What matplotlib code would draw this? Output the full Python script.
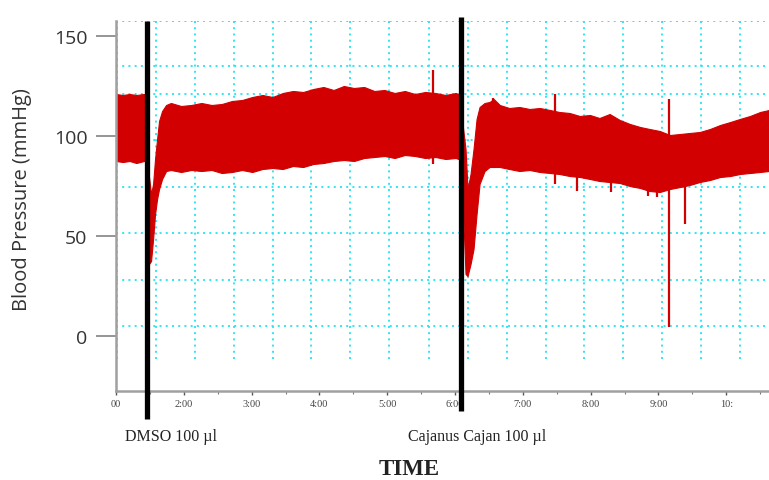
import matplotlib
matplotlib.use("Agg")
import matplotlib.pyplot as plt
import numpy as np

# ---- data (time in minutes, pressure in mmHg) ----
seg_pre_t  = [1.000, 1.100, 1.200, 1.300, 1.414]
seg_pre_hi = [121.0, 120.5, 121.0, 120.5, 121.0]
seg_pre_lo = [87.5, 87.0, 87.5, 86.5, 87.5]

seg_dmso_t  = [1.443, 1.487, 1.517, 1.547, 1.576, 1.606, 1.635, 1.680, 1.739,
               1.81, 1.96, 2.11, 2.26, 2.41, 2.56, 2.71, 2.86, 3.01, 3.16, 3.31,
               3.46, 3.61, 3.76, 3.91, 4.06, 4.21, 4.36, 4.51, 4.66, 4.81, 4.96,
               5.11, 5.26, 5.41, 5.56, 5.71, 5.86, 6.01, 6.05]
seg_dmso_hi = [82.0, 79.5, 71.0, 76.0, 88.5, 98.5, 107.5, 112.5, 115.5,
               116.5, 115.0, 115.5, 116.5, 115.5, 116.0, 117.5, 118.0, 119.5, 120.5, 119.5,
               121.5, 122.5, 122.0, 123.5, 124.5, 123.0, 125.0, 124.0, 124.5, 122.5, 123.0,
               121.5, 122.5, 121.0, 122.0, 121.5, 120.5, 121.5, 121.0]
seg_dmso_lo = [61.0, 36.0, 37.5, 48.5, 61.0, 68.5, 73.5, 78.5, 82.5,
               83.0, 82.0, 83.0, 82.5, 83.0, 81.5, 82.0, 83.0, 82.0, 83.5, 84.0,
               83.5, 85.0, 84.5, 86.0, 86.5, 87.5, 88.0, 87.5, 89.0, 89.5, 90.0,
               89.0, 90.5, 90.0, 89.0, 89.5, 88.5, 89.0, 88.5]

seg_caj_t  = [6.111, 6.155, 6.185, 6.229, 6.273, 6.318, 6.362, 6.436, 6.510,
              6.57, 6.66, 6.80, 6.95, 7.10, 7.25, 7.40, 7.54, 7.69, 7.84, 7.99,
              8.13, 8.28, 8.43, 8.58, 8.73, 8.87, 9.02, 9.17, 9.32, 9.46, 9.61,
              9.76, 9.91, 10.06, 10.20, 10.35, 10.50, 10.63]
seg_caj_hi = [106.0, 93.5, 73.5, 81.0, 93.5, 108.5, 114.5, 116.5, 117.0,
              118.5, 115.5, 114.0, 114.5, 113.5, 114.0, 113.0, 112.0, 111.5, 110.0, 110.5,
              109.0, 111.0, 108.0, 106.0, 104.5, 103.5, 102.5, 100.5, 101.0, 101.5, 102.0,
              103.5, 105.5, 107.0, 108.5, 110.0, 112.0, 113.0]
seg_caj_lo = [68.5, 31.0, 30.0, 36.0, 43.5, 61.0, 76.0, 82.5, 84.5,
              84.5, 84.5, 83.5, 82.5, 83.0, 82.0, 81.5, 81.0, 80.0, 79.5, 78.5,
              77.5, 77.0, 76.5, 75.0, 74.0, 72.5, 72.0, 73.5, 74.5, 75.5, 77.0,
              78.0, 79.5, 80.0, 81.0, 81.5, 82.0, 82.5]

spike_t  = [1.000, 5.668, 6.554, 7.470, 7.795, 8.297, 8.843, 8.976, 9.154, 9.390]
spike_lo = [115.0, 86.0, 110.0, 76.0, 72.5, 72.0, 70.0, 69.5, 4.5, 56.0]
spike_hi = [148.5, 133.0, 119.0, 121.0, 85.0, 80.0, 78.0, 78.0, 118.5, 101.0]

inject_t = [1.458, 6.081]
inject_labels = ["DMSO 100 µl", "Cajanus Cajan 100 µl"]

y_ticks = [0, 50, 100, 150]
x_ticks = [1, 2, 3, 4, 5, 6, 7, 8, 9, 10]
x_ticklabels = ["00", "2:00", "3:00", "4:00", "5:00", "6:00", "7:00", "8:00", "9:00", "10:"]

grid_t = [1.015, 1.591, 2.167, 2.743, 3.319, 3.880, 4.456, 5.033, 5.609, 6.185,
          6.761, 7.337, 7.898, 8.474, 9.050, 9.626, 10.203]
grid_v = [157.5, 135, 121, 98, 74.5, 51.5, 28, 5]

# ---- figure ----
W, H = 769, 481
fig = plt.figure(figsize=(W / 100, H / 100), dpi=100)
ax = fig.add_axes([116 / W, 1 - 392 / H, (W - 116) / W, 370 / H])
ax.set_xlim(1.0, 1 + (W - 117) / 67.7)
ax.set_ylim(-27.5, 157.5)

red = "#d20000"
cyan = "#2ee6f2"

# grid
for gv in grid_v:
    ax.axhline(gv, color=cyan, lw=1.4, ls=(0, (1, 2.2)), zorder=0)
for gt in grid_t:
    ax.plot([gt, gt], [-11.5, 157.5], color=cyan, lw=1.4, ls=(0, (1, 2.2)), zorder=0)

# signal band
for tt, hi, lo in [(seg_pre_t, seg_pre_hi, seg_pre_lo),
                   (seg_dmso_t, seg_dmso_hi, seg_dmso_lo),
                   (seg_caj_t, seg_caj_hi, seg_caj_lo)]:
    ax.fill_between(tt, lo, hi, color=red, lw=0.8, edgecolor=red, zorder=2)
ax.vlines(spike_t, spike_lo, spike_hi, color=red, lw=1.6, zorder=2)

# injection markers
ax.plot([inject_t[0], inject_t[0]], [-41.5, 157.5], color="black", lw=3.8,
        zorder=4, clip_on=False, solid_capstyle="butt")
ax.plot([inject_t[1], inject_t[1]], [-37.5, 159.5], color="black", lw=3.8,
        zorder=4, clip_on=False, solid_capstyle="butt")

# axes styling
for s in ["top", "right"]:
    ax.spines[s].set_visible(False)
for s in ["left", "bottom"]:
    ax.spines[s].set_color("#a0a0a0")
    ax.spines[s].set_linewidth(1.8)

ax.set_yticks(y_ticks)
ax.set_yticklabels([str(v) for v in y_ticks], fontsize=14, color="#333333",
                   family="Open Sans")
ax.tick_params(axis="y", length=14.5, width=1.3, color="#8c8c8c", pad=6)

ax.set_xticks(x_ticks)
ax.set_xticklabels(x_ticklabels, fontsize=7.5, color="#444444", family="Liberation Serif")
ax.set_xticks([t + 0.5 for t in x_ticks[:-1]] + [10.5], minor=True)
ax.tick_params(axis="x", which="major", length=3, width=1, color="#555555", pad=3)
ax.tick_params(axis="x", which="minor", length=2, width=0.8, color="#777777")

ax.set_ylabel("Blood Pressure (mmHg)", fontsize=14.5, color="#333333", family="Open Sans")
ax.yaxis.set_label_coords((32 - 116) / (W - 116), (392 - 200) / 370)

fig.text(125 / W, 1 - 437 / H, inject_labels[0], fontsize=11.5, family="Liberation Serif",
         ha="left", va="center", color="#222222")
fig.text(408 / W, 1 - 437 / H, inject_labels[1], fontsize=11.5, family="Liberation Serif",
         ha="left", va="center", color="#222222")
fig.text(409 / W, 1 - 470 / H, "TIME", fontsize=16.5, family="Liberation Serif",
         weight="bold", ha="center", va="center", color="#222222")

fig.savefig("out.png", dpi=100)
